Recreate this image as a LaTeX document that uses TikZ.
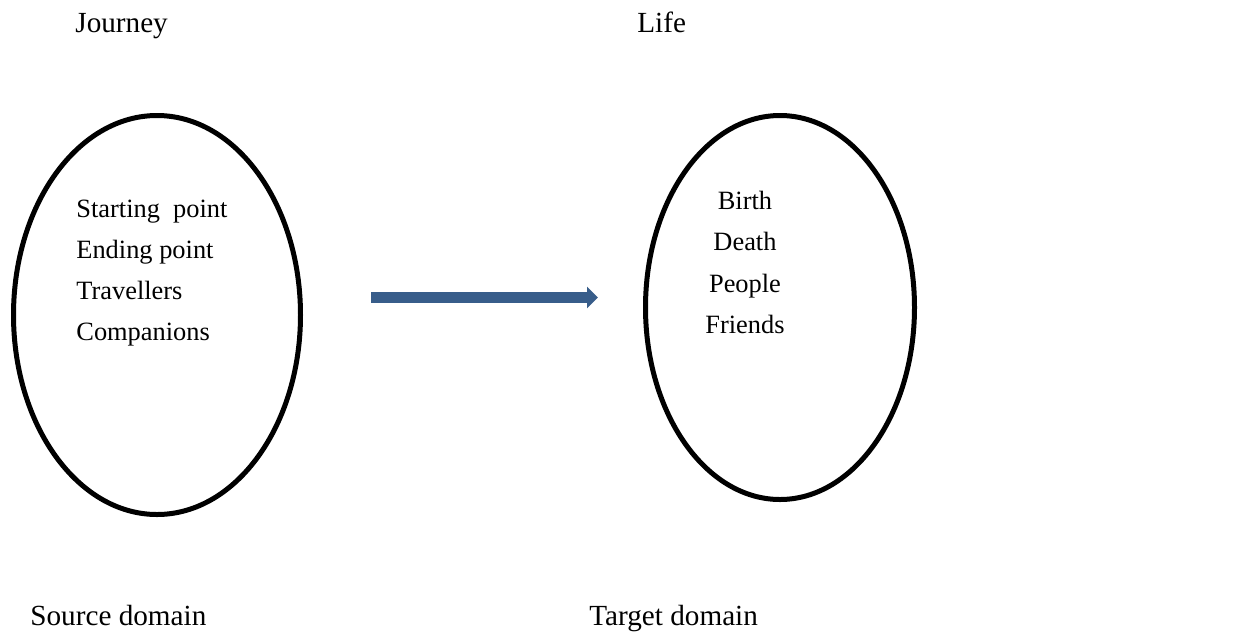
\documentclass[tikz,border=0pt]{standalone}
\usepackage{fontspec}
\setmainfont{Liberation Serif}
\usetikzlibrary{shapes.geometric}
\usetikzlibrary{arrows.meta}
\definecolor{arrowblue}{RGB}{56,93,138}

\begin{document}
\begin{tikzpicture}[x=0.5pt,y=-0.5pt,
  every node/.style={font=\fontsize{14.6}{17}\selectfont},
  oval/.style={draw,ellipse,line width=2.5pt,inner sep=0pt},
  word/.style={anchor=base west,inner sep=0pt},
  small/.style={font=\fontsize{13.2}{16}\selectfont},
  item/.style={anchor=base,inner sep=0pt},
  flow/.style={line width=5.5pt,arrowblue,-{Triangle[length=5.5pt,width=10.5pt]}}]
  \useasboundingbox (0,0) rectangle (1247,638);

  % Headings above the two domains
  \node[word] (journey) at (75,32) {Journey};
  \node[word] (life) at (637,32) {Life};

  % Source domain (left) and target domain (right)
  \node[oval,minimum width=143.5pt,minimum height=199.5pt] (source) at (157,315) {};
  \node[oval,minimum width=134.5pt,minimum height=192pt] (target) at (780,307.5) {};

  % Elements of the journey
  \node[word,small] (start) at (76,217) {Starting\ \ point};
  \node[word,small] (ending) at (76,258) {Ending point};
  \node[word,small] (travel) at (76,299) {Travellers};
  \node[word,small] (compan) at (76,340) {Companions};

  % Elements of life
  \node[item,small] (birth) at (745,209) {Birth};
  \node[item,small] (death) at (745,250) {Death};
  \node[item,small] (people) at (745,292) {People};
  \node[item,small] (friends) at (745,333) {Friends};

  % Mapping arrow
  \coordinate (mapfrom) at (371,297.5);
  \coordinate (mapto) at (598,297.5);
  \draw[flow] (mapfrom) -- (mapto);

  % Captions under the domains
  \node[word] (srccap) at (30,625) {Source domain};
  \node[word] (tgtcap) at (589,625) {Target domain};
\end{tikzpicture}
\end{document}
